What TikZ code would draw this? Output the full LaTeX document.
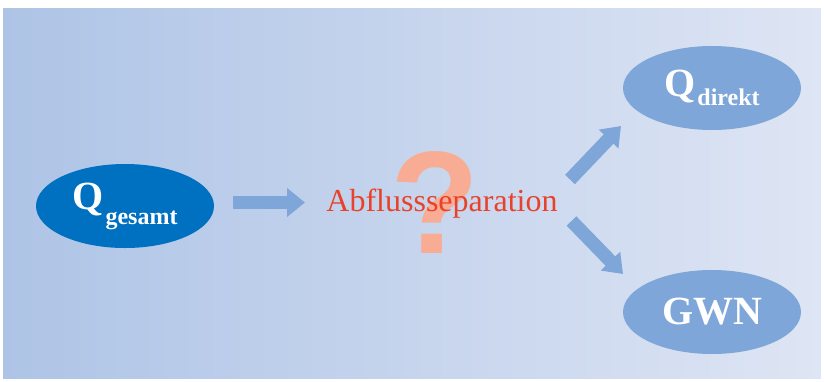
\documentclass[tikz,border=0pt]{standalone}
\usepackage{fontspec}
\setmainfont{Liberation Serif}
\newfontfamily\qmarkfont{Liberation Sans}
\usepackage{xcolor}
\usetikzlibrary{shapes.geometric,arrows.meta,positioning}
\definecolor{bgleft}{RGB}{174,196,230}
\definecolor{bgright}{RGB}{222,229,244}
\definecolor{darkblue}{RGB}{0,112,192}
\definecolor{lightblue}{RGB}{126,166,216}
\definecolor{sepred}{RGB}{232,67,42}
\definecolor{qsalmon}{RGB}{248,172,148}

\begin{document}
\begin{tikzpicture}[x=1pt,y=-1pt,
  blob/.style={ellipse, fill=lightblue, minimum width=178pt, minimum height=84pt, inner sep=0pt, text=white, font=\bfseries},
  bigarrow/.style={draw=lightblue, line width=13pt, -{Triangle[width=28pt,length=18pt]}}]
  \useasboundingbox (0,0) rectangle (824,381);

  % Background
  \shade[left color=bgleft, right color=bgright] (3,8) rectangle (821,378);

  % Question mark and label
  \node[anchor=base, text=qsalmon, inner sep=0pt] (qmark) at (435,253) {\qmarkfont\bfseries\fontsize{146}{146}\selectfont ?};
  \node[anchor=base, text=sepred, inner sep=0pt] (sep) at (442,211) {\fontsize{32}{32}\selectfont Abflussseparation};

  % Ellipses
  \node[blob, fill=darkblue] (qges) at (125,206) {\fontsize{40}{40}\selectfont Q\kern2pt\raisebox{-15pt}{\fontsize{24}{24}\selectfont gesamt}};
  \node[blob] (qdir) at (712,88) {\fontsize{40}{40}\selectfont Q\kern2pt\raisebox{-9pt}{\fontsize{24}{24}\selectfont direkt}};
  \node[blob] (gwn) at (712,312) {\fontsize{40}{40}\selectfont GWN};

  % Arrow ends
  \coordinate (a0s) at (233,202.5);
  \coordinate (a0e) at (305,202.5);
  \coordinate (a1s) at (570,179.5);
  \coordinate (a1e) at (621,126);
  \coordinate (a2s) at (571.5,221);
  \coordinate (a2e) at (623,274);

  % Arrows
  \draw[bigarrow] (a0s) -- (a0e);
  \draw[bigarrow, line width=13.5pt, -{Triangle[width=26pt,length=18pt]}] (a1s) -- (a1e);
  \draw[bigarrow, line width=13.5pt, -{Triangle[width=26pt,length=18pt]}] (a2s) -- (a2e);

\end{tikzpicture}
\end{document}
